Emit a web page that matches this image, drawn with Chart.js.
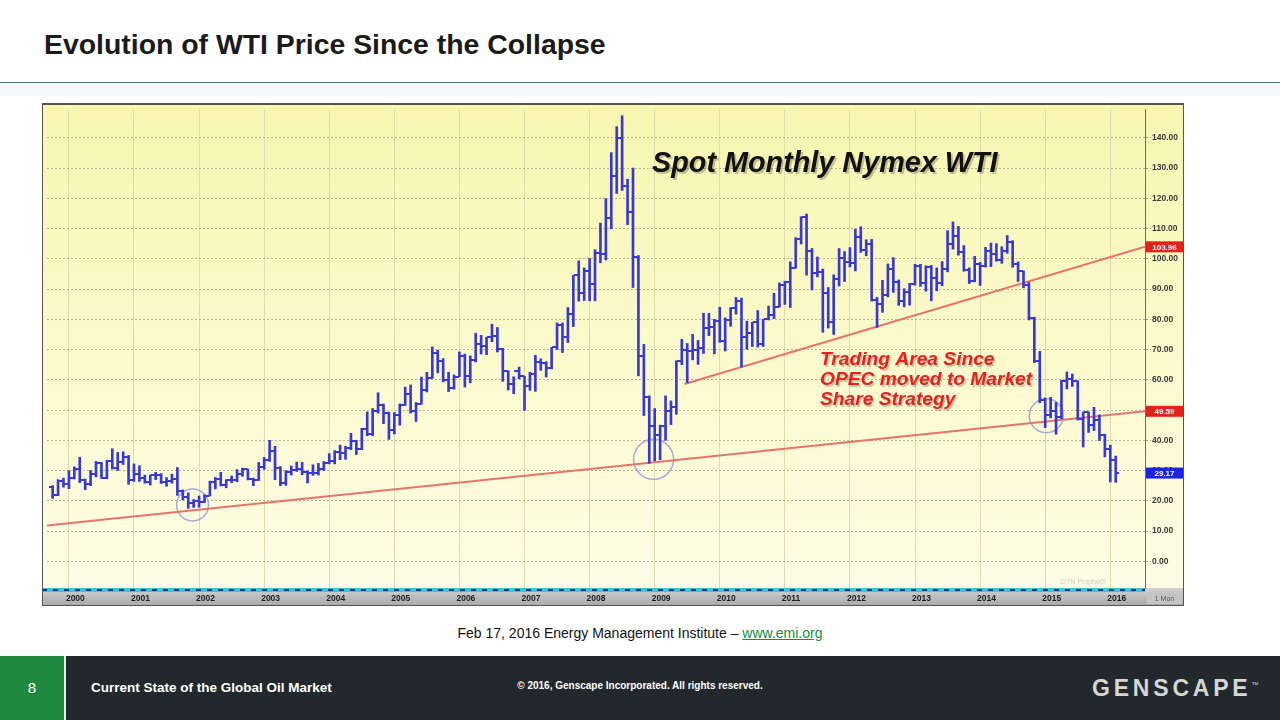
<!DOCTYPE html>
<html lang="en">
<head>
<meta charset="UTF-8">
<title>Evolution of WTI Price Since the Collapse</title>
<style>
  body { margin:0; width:1280px; height:720px; position:relative; overflow:hidden; background:#fff;
         font-family:"Liberation Sans", Arial, sans-serif; }
  #title { position:absolute; left:44px; top:28px; line-height:32px; font-size:28.4px; font-weight:bold; color:#1b1b1b; }
  #rule { position:absolute; left:0; top:82px; width:1280px; height:1px; background:#3a7566; }
  #band { position:absolute; left:0; top:83px; width:1280px; height:13px; background:#f3f7fa; }
  #chartBox { position:absolute; left:42px; top:103px; width:1142px; height:503px; }
  #caption { position:absolute; left:0; width:1280px; top:625px; line-height:16px; text-align:center; font-size:14px; color:#111; }
  #caption a { color:#1a8a3c; }
  #footer { position:absolute; left:0; top:656px; width:1280px; height:64px; background:#21292c; color:#fff; }
  #pageNum { position:absolute; left:0; top:0; width:64px; height:64px; background:#1f8a3f; border-right:2px solid #e4ebe7;
             text-align:center; line-height:64px; font-size:15px; }
  #deck { position:absolute; left:91px; top:24px; line-height:16px; font-size:13.5px; font-weight:bold; }
  #copy { position:absolute; left:0; width:1280px; top:24px; line-height:12px; text-align:center; font-size:10px; font-weight:bold; }
  #logo { position:absolute; left:1092px; top:19px; line-height:26px; font-size:23px; font-weight:bold; letter-spacing:3.8px; color:#d6d6d6; }
  #logo span { position:relative; top:-9px; font-size:7px; letter-spacing:0; font-weight:normal; }
</style>
</head>
<body>
<div id="title">Evolution of WTI Price Since the Collapse</div>
<div id="rule"></div>
<div id="band"></div>
<div id="chartBox"><canvas id="wti"></canvas></div>
<div id="caption">Feb 17, 2016 Energy Management Institute – <a href="#">www.emi.org</a></div>
<div id="footer">
  <div id="pageNum">8</div>
  <div id="deck">Current State of the Global Oil Market</div>
  <div id="copy">© 2016, Genscape Incorporated. All rights reserved.</div>
  <div id="logo">GENSCAPE<span>™</span></div>
</div>

<script src="https://cdn.jsdelivr.net/npm/chart.js"></script>
<script>
  // monthly Nymex WTI bars, Oct 1999 .. Feb 2016
  const years = ['2000','2001','2002','2003','2004','2005','2006','2007','2008','2009','2010','2011','2012','2013','2014','2015','2016'];
  const yTickValues = [0, 10, 20, 30, 40, 50, 60, 70, 80, 90, 100, 110, 120, 130, 140];

  const opens = [24.5, 21.8, 26.7,
    25.6, 27.6, 30.4, 26.9, 25.7, 29.0, 32.5, 27.4, 33.1, 30.8, 32.7, 34.4,
    26.8, 28.7, 27.4, 26.3, 28.5, 28.4, 26.3, 26.4, 27.2, 23.4, 21.2, 19.4,
    19.8, 19.5, 21.7, 26.3, 27.3, 25.3, 26.9, 27.0, 28.9, 30.5, 27.2, 26.9,
    31.2, 33.5, 36.6, 31.0, 25.8, 29.6, 30.2, 30.5, 29.6, 29.2, 29.1, 30.4,
    32.5, 33.1, 36.2, 35.8, 37.4, 39.9, 37.1, 43.8, 42.1, 49.6, 51.8, 49.1,
    43.5, 48.2, 51.8, 55.4, 49.7, 52.0, 56.5, 60.6, 68.9, 66.2, 59.8, 57.3,
    61.0, 67.9, 61.4, 66.6, 71.9, 71.3, 74.0, 74.4, 70.3, 62.9, 58.7, 62.9,
    61.1, 58.1, 61.8, 65.9, 65.7, 64.0, 70.7, 78.2, 74.0, 81.7, 94.5, 88.7,
    96.0, 91.8, 101.8, 101.6, 113.5, 127.4, 140.0, 124.1, 115.5, 100.6, 67.8, 54.4,
    44.6, 41.7, 44.8, 49.7, 51.1, 66.3, 69.9, 69.5, 70.0, 70.6, 77.0, 77.3,
    79.4, 72.9, 79.7, 83.8, 86.2, 74.0, 75.6, 79.0, 71.9, 80.0, 81.4, 84.1,
    91.4, 92.2, 97.0, 106.7, 113.9, 102.7, 95.4, 95.7, 88.8, 79.2, 93.2, 100.4,
    98.8, 98.5, 107.1, 103.0, 104.9, 86.5, 85.0, 88.1, 96.5, 92.2, 86.2, 88.9,
    91.8, 97.5, 92.1, 97.2, 93.5, 92.0, 96.6, 105.0, 107.7, 102.3, 96.4, 92.7,
    98.4, 97.5, 102.6, 101.6, 99.7, 102.7, 105.4, 98.2, 96.0, 91.2, 80.5, 66.2,
    53.3, 48.2, 49.8, 47.6, 59.6, 60.3, 59.5, 47.1, 49.2, 45.1, 46.6, 41.7,
    37.0, 33.6];

  const highs = [25.0, 27.0, 27.5,
    30.0, 31.2, 34.4, 27.2, 30.0, 33.0, 32.7, 33.4, 37.2, 36.0, 36.2, 35.0,
    32.2, 31.6, 28.5, 28.5, 29.4, 29.0, 27.7, 28.8, 31.0, 23.6, 22.6, 20.4,
    21.6, 22.0, 26.5, 27.7, 29.4, 27.0, 28.2, 30.3, 30.8, 30.5, 27.5, 32.7,
    34.3, 40.0, 38.0, 31.3, 30.0, 31.5, 32.8, 32.7, 29.9, 31.9, 32.4, 33.0,
    35.6, 36.6, 38.4, 38.0, 42.3, 40.0, 44.0, 49.4, 50.5, 55.7, 52.0, 49.3,
    49.2, 52.0, 57.6, 58.3, 52.5, 60.9, 62.5, 70.9, 69.8, 67.0, 62.5, 61.6,
    69.2, 68.5, 67.9, 75.4, 74.7, 74.1, 78.4, 77.3, 70.4, 63.0, 61.0, 64.2,
    61.2, 62.5, 68.1, 66.9, 66.0, 70.7, 78.8, 78.8, 83.9, 94.5, 99.3, 97.0,
    100.1, 103.0, 111.8, 119.9, 135.1, 143.7, 147.3, 126.3, 130.0, 101.1, 71.7, 54.7,
    50.5, 45.0, 54.7, 53.0, 66.3, 73.4, 72.0, 75.0, 73.0, 82.0, 82.0, 80.0,
    84.0, 80.5, 83.9, 87.2, 87.0, 79.4, 79.0, 82.9, 80.0, 84.4, 88.6, 92.0,
    92.6, 99.0, 107.0, 113.9, 114.8, 103.4, 100.6, 96.6, 90.5, 94.7, 103.4, 102.4,
    103.7, 109.8, 110.6, 106.3, 106.4, 87.3, 92.9, 98.3, 100.4, 93.0, 90.1, 91.9,
    98.2, 98.2, 97.7, 97.8, 97.0, 99.1, 109.3, 112.2, 110.7, 104.4, 97.0, 100.8,
    98.8, 103.8, 105.2, 105.0, 104.0, 107.7, 106.0, 99.0, 96.0, 92.2, 80.7, 69.4,
    54.0, 54.2, 52.5, 59.9, 62.6, 61.9, 59.7, 49.3, 49.4, 50.9, 48.4, 42.0,
    38.4, 34.8];

  const lows = [20.8, 21.7, 24.5,
    24.0, 27.2, 26.0, 23.7, 25.0, 27.9, 27.4, 27.3, 30.5, 30.0, 32.0, 25.5,
    26.4, 26.4, 25.8, 25.2, 27.0, 25.7, 24.8, 25.8, 21.8, 20.3, 17.5, 17.8,
    17.9, 19.4, 21.6, 23.9, 24.9, 24.3, 26.0, 26.3, 28.1, 26.9, 25.0, 26.7,
    30.4, 33.0, 27.0, 25.0, 25.1, 28.5, 29.7, 28.6, 25.9, 28.4, 28.5, 30.0,
    32.2, 32.2, 33.6, 33.7, 36.9, 35.3, 36.9, 41.5, 41.5, 49.0, 45.5, 40.3,
    42.1, 45.0, 51.5, 49.0, 46.2, 51.9, 56.0, 60.5, 62.3, 59.3, 56.1, 56.9,
    61.0, 57.6, 59.0, 65.9, 68.5, 68.3, 72.6, 69.2, 59.5, 56.6, 55.4, 60.3,
    49.9, 56.5, 56.2, 63.1, 60.9, 63.6, 70.0, 69.0, 72.3, 77.6, 86.0, 86.2,
    86.1, 86.1, 98.7, 99.6, 109.9, 121.6, 122.6, 111.3, 90.5, 61.3, 48.2, 32.4,
    33.2, 33.6, 40.0, 45.2, 48.6, 65.0, 59.0, 66.6, 65.1, 68.7, 74.6, 68.6,
    72.4, 69.5, 77.7, 81.7, 64.2, 70.1, 71.0, 70.8, 71.0, 79.8, 80.2, 84.0,
    84.9, 83.9, 96.9, 104.9, 94.6, 89.7, 94.0, 75.7, 77.1, 75.0, 91.0, 92.5,
    97.3, 96.0, 102.1, 101.0, 86.0, 77.3, 82.3, 87.4, 88.9, 84.6, 84.1, 84.7,
    91.3, 90.9, 89.3, 86.1, 89.4, 91.1, 95.7, 103.2, 101.2, 95.9, 91.8, 92.4,
    91.2, 97.3, 97.4, 99.2, 98.5, 101.8, 97.2, 92.5, 90.4, 79.8, 65.7, 52.4,
    44.2, 47.4, 42.0, 47.1, 57.0, 57.8, 46.7, 37.8, 42.6, 43.2, 39.9, 34.5,
    26.2, 26.1];

  const closes = [21.8, 26.7, 25.6,
    27.6, 30.4, 26.9, 25.7, 29.0, 32.5, 27.4, 33.1, 30.8, 32.7, 34.4, 26.8,
    28.7, 27.4, 26.3, 28.5, 28.4, 26.3, 26.4, 27.2, 23.4, 21.2, 19.4, 19.8,
    19.5, 21.7, 26.3, 27.3, 25.3, 26.9, 27.0, 28.9, 30.5, 27.2, 26.9, 31.2,
    33.5, 36.6, 31.0, 25.8, 29.6, 30.2, 30.5, 29.6, 29.2, 29.1, 30.4, 32.5,
    33.1, 36.2, 35.8, 37.4, 39.9, 37.1, 43.8, 42.1, 49.6, 51.8, 49.1, 43.5,
    48.2, 51.8, 55.4, 49.7, 52.0, 56.5, 60.6, 68.9, 66.2, 59.8, 57.3, 61.0,
    67.9, 61.4, 66.6, 71.9, 71.3, 74.0, 74.4, 70.3, 62.9, 58.7, 62.9, 61.1,
    58.1, 61.8, 65.9, 65.7, 64.0, 70.7, 78.2, 74.0, 81.7, 94.5, 88.7, 96.0,
    91.8, 101.8, 101.6, 113.5, 127.4, 140.0, 124.1, 115.5, 100.6, 67.8, 54.4, 44.6,
    41.7, 44.8, 49.7, 51.1, 66.3, 69.9, 69.5, 70.0, 70.6, 77.0, 77.3, 79.4,
    72.9, 79.7, 83.8, 86.2, 74.0, 75.6, 79.0, 71.9, 80.0, 81.4, 84.1, 91.4,
    92.2, 97.0, 106.7, 113.9, 102.7, 95.4, 95.7, 88.8, 79.2, 93.2, 100.4, 98.8,
    98.5, 107.1, 103.0, 104.9, 86.5, 85.0, 88.1, 96.5, 92.2, 86.2, 88.9, 91.8,
    97.5, 92.1, 97.2, 93.5, 92.0, 96.6, 105.0, 107.7, 102.3, 96.4, 92.7, 98.4,
    97.5, 102.6, 101.6, 99.7, 102.7, 105.4, 98.2, 96.0, 91.2, 80.5, 66.2, 53.3,
    48.2, 49.8, 47.6, 59.6, 60.3, 59.5, 47.1, 49.2, 45.1, 46.6, 41.7, 37.0,
    33.6, 29.2];

  // right axis flags and the two trend lines (x = months since Jan 2000)
  const markPrices = [103.96, 49.59, 29.17];
  const longTrend = [{x: -4.04, y: 11.8}, {x: 198.4, y: 49.59}];
  const shareTrend = [{x: 113.5, y: 58.6}, {x: 198.4, y: 103.96}];
  const circleMonths = [22.8, 107.8, 180.2];
  const circlePrices = [18.6, 33.7, 48.1];

  const barColor = '#3838d4';
  const firstMonth = -3; // Oct 1999

  const ranges = opens.map((o, i) => ({x: firstMonth + i, y: [lows[i], highs[i]]}));
  const openPts = opens.map((o, i) => ({x: firstMonth + i, y: o}));
  const closePts = closes.map((c, i) => ({x: firstMonth + i, y: c}));

  function tickImage(left) {
    const c = document.createElement('canvas');
    c.width = 7; c.height = 2;
    const g = c.getContext('2d');
    g.fillStyle = barColor;
    g.fillRect(left ? 0 : 4, 0, 3, 2);
    return c;
  }

  const decor = {
    id: 'decor',
    beforeDraw(chart) {
      const {ctx, width, height, chartArea: a} = chart;
      ctx.save();
      const bg = ctx.createLinearGradient(0, 0, 0, a.bottom);
      bg.addColorStop(0, '#f8f6b0');
      bg.addColorStop(1, '#fdfde6');
      ctx.fillStyle = bg;
      ctx.fillRect(0, 0, width, a.bottom);
      const strip = ctx.createLinearGradient(0, a.bottom, 0, height);
      strip.addColorStop(0, '#d2d2d2');
      strip.addColorStop(1, '#a8a8a8');
      ctx.fillStyle = strip;
      ctx.fillRect(0, a.bottom, width, height - a.bottom);
      ctx.fillStyle = '#3fc4d4';
      ctx.fillRect(0, a.bottom, a.right, 4);
      ctx.strokeStyle = '#1f2f8f';
      ctx.lineWidth = 2;
      ctx.setLineDash([5, 6]);
      ctx.beginPath();
      ctx.moveTo(0, a.bottom + 2);
      ctx.lineTo(a.right, a.bottom + 2);
      ctx.stroke();
      ctx.restore();
    },
    beforeDatasetsDraw(chart) {
      const {ctx, scales: {x, y}} = chart;
      const rings = [16, 20, 17];
      ctx.save();
      ctx.strokeStyle = '#a3a9d9';
      ctx.lineWidth = 1.5;
      circleMonths.forEach((m, i) => {
        ctx.beginPath();
        ctx.arc(x.getPixelForValue(m), y.getPixelForValue(circlePrices[i]), rings[i], 0, Math.PI * 2);
        ctx.stroke();
      });
      ctx.restore();
    },
    afterDraw(chart) {
      const {ctx, width, height, chartArea: a, scales: {y}} = chart;
      ctx.save();
      // price flags on the right axis
      const flagColors = ['#e2231c', '#e2231c', '#1d23e2'];
      ctx.font = 'bold 8px "Liberation Sans", Arial';
      ctx.textAlign = 'center';
      ctx.textBaseline = 'middle';
      markPrices.forEach((p, i) => {
        const py = y.getPixelForValue(p);
        ctx.fillStyle = flagColors[i];
        ctx.fillRect(a.right + 1, py - 5.5, width - a.right - 2, 11);
        ctx.fillStyle = '#fff';
        ctx.fillText(p.toFixed(2), (a.right + width) / 2, py + 0.5);
      });
      // period box in the right panel
      ctx.fillStyle = '#c4c4c4';
      ctx.fillRect(a.right + 2, a.bottom + 5, width - a.right - 4, height - a.bottom - 7);
      ctx.fillStyle = '#555';
      ctx.font = '7px "Liberation Sans", Arial';
      ctx.fillText('1 Mon', (a.right + width) / 2, a.bottom + 11);
      // faint source stamp
      ctx.fillStyle = 'rgba(150,150,130,0.45)';
      ctx.textAlign = 'left';
      ctx.fillText('DTN ProphetX', a.right - 84, a.bottom - 6);
      // chart titles
      ctx.textBaseline = 'alphabetic';
      ctx.font = 'italic bold 28.8px "Liberation Sans", Arial';
      ctx.fillStyle = 'rgba(0,0,0,0.22)';
      ctx.fillText('Spot Monthly Nymex WTI', 612, 71);
      ctx.fillStyle = '#111';
      ctx.fillText('Spot Monthly Nymex WTI', 610, 69);
      const note = ['Trading Area Since', 'OPEC moved to Market', 'Share Strategy'];
      ctx.font = 'italic bold 19.2px "Liberation Sans", Arial';
      note.forEach((t, i) => {
        ctx.fillStyle = 'rgba(0,0,0,0.2)';
        ctx.fillText(t, 779.5, 263.5 + i * 20);
        ctx.fillStyle = '#e3231f';
        ctx.fillText(t, 778, 262 + i * 20);
      });
      // frame
      ctx.strokeStyle = '#555';
      ctx.lineWidth = 1;
      ctx.strokeRect(0.5, 0.5, width - 1, height - 1);
      ctx.fillStyle = '#555';
      ctx.fillRect(0, 0, width, 2);
      ctx.restore();
    }
  };

  Chart.defaults.font.family = '"Liberation Sans", Arial, sans-serif';

  new Chart(document.getElementById('wti'), {
    type: 'bar',
    data: {
      datasets: [
        { type: 'line', data: longTrend, borderColor: '#e8736b', borderWidth: 2, pointRadius: 0, order: 3 },
        { type: 'line', data: shareTrend, borderColor: '#e8736b', borderWidth: 2, pointRadius: 0, order: 3 },
        { type: 'bar', data: ranges, backgroundColor: barColor, borderWidth: 0, barThickness: 2, order: 2 },
        { type: 'scatter', data: openPts, pointStyle: tickImage(true), pointRadius: 3, order: 1 },
        { type: 'scatter', data: closePts, pointStyle: tickImage(false), pointRadius: 3, order: 1 }
      ]
    },
    options: {
      responsive: true,
      maintainAspectRatio: false,
      animation: false,
      events: [],
      layout: { padding: { left: 1, top: 1, right: 0, bottom: 0 } },
      plugins: { legend: { display: false }, tooltip: { enabled: false } },
      scales: {
        x: {
          type: 'linear', min: -4.04, max: 198.4, offset: false,
          afterFit: s => { s.height = 18; },
          afterBuildTicks: s => { s.ticks = years.map((yr, i) => ({ value: i * 12 })); },
          grid: { color: '#e0dcae', lineWidth: 1, drawTicks: false, offset: false },
          border: { display: false },
          ticks: {
            autoSkip: false, maxRotation: 0, align: 'start', labelOffset: -3, padding: 6,
            font: { size: 8.5, weight: 'bold' }, color: '#1c1c1c',
            callback: v => years[v / 12]
          }
        },
        y: {
          position: 'right', min: -8.83, max: 149.49,
          afterFit: s => { s.width = 39; },
          afterBuildTicks: s => { s.ticks = yTickValues.map(v => ({ value: v })); },
          grid: { color: '#b9b58e', lineWidth: 1, tickLength: 6, tickColor: '#9c9a86', tickBorderDash: [2, 2] },
          border: { display: true, color: '#6b6b6b', width: 1, dash: [2, 2] },
          ticks: {
            padding: 1, font: { size: 8.5, weight: 'bold' }, color: '#3a3a3a',
            callback: v => v.toFixed(2)
          }
        }
      }
    },
    plugins: [decor]
  });
</script>
</body>
</html>
